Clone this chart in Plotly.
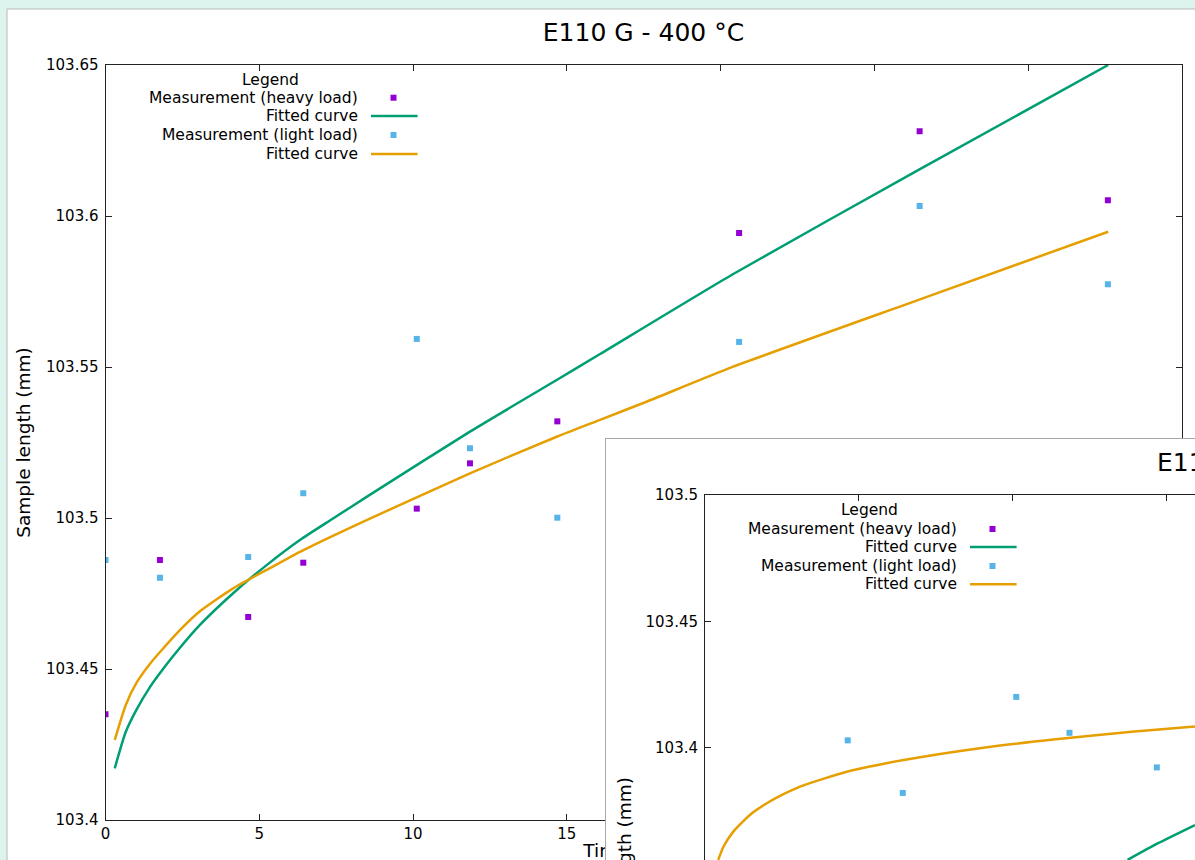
import plotly.graph_objects as go

W, H = 1195, 860
FONT = "DejaVu Sans"

# ---------------- data ----------------
main_title = "E110 G - 400 °C"
inset_title = "E110 G"
x_title = "Time (days)"
y_title = "Sample length (mm)"
legend_heading = "Legend"
legend_labels = ["Measurement (heavy load)", "Fitted curve",
                 "Measurement (light load)", "Fitted curve"]

time_main = [0.0, 1.77, 4.64, 6.43, 10.12, 11.85, 14.69, 20.6, 26.47, 32.59]
heavy_main = [103.435, 103.4861, 103.4672, 103.4852, 103.5031, 103.5181,
              103.532, 103.5944, 103.6281, 103.6052]
light_main = [103.4861, 103.4802, 103.4871, 103.5082, 103.5593, 103.5231,
              103.5001, 103.5583, 103.6033, 103.5774]

fit_heavy_t = [0.30, 0.66, 1.00, 1.45, 1.97, 2.36, 3.07, 4.15, 5.24, 6.32, 7.41,
               8.49, 11.85, 14.67, 16.08, 20.41, 26.48, 32.6]
fit_heavy_y = [103.4171, 103.4292, 103.4364, 103.4441, 103.4513, 103.4563,
               103.4646, 103.4751, 103.4844, 103.4927, 103.4999, 103.507,
               103.5286, 103.5457, 103.5543, 103.5808, 103.6155, 103.65]

fit_light_t = [0.30, 0.66, 1.00, 1.46, 1.83, 2.53, 3.07, 4.15, 5.24, 6.32, 7.41,
               8.49, 11.85, 14.67, 16.08, 17.59, 20.41, 26.48, 32.6]
fit_light_y = [103.4265, 103.4381, 103.4453, 103.4519, 103.4563, 103.464,
               103.4691, 103.4767, 103.4828, 103.4888, 103.4942, 103.4993,
               103.5148, 103.5269, 103.5325, 103.5385, 103.5501, 103.5724,
               103.5948]

# inset (second window, partly visible)
time_inset = [4.64, 6.43, 10.12, 11.85, 14.69]
light_inset = [103.4029, 103.3821, 103.4201, 103.4059, 103.3922]
fit_light_inset_t = [0.43, 0.60, 0.92, 1.46, 2.01, 2.55, 3.09, 4.61, 6.46,
                     8.93, 11.4, 13.87, 15.93]
fit_light_inset_y = [103.3556, 103.3608, 103.3668, 103.3734, 103.378, 103.3816,
                     103.3846, 103.3905, 103.3951, 103.3998, 103.4033, 103.4063,
                     103.4084]
fit_heavy_inset_t = [13.74, 14.73, 15.93]
fit_heavy_inset_y = [103.3556, 103.3622, 103.3694]

C_HEAVY = "#9400d3"
C_HEAVY_FIT = "#009e73"
C_LIGHT = "#56b4e9"
C_LIGHT_FIT = "#e69f00"


def px(x):
    return x / W


def py(y):
    return 1 - y / H


fig = go.Figure()

# ---- main chart (x/y) ----
fig.add_trace(go.Scatter(x=time_main, y=heavy_main, mode="markers", name=legend_labels[0],
                         marker=dict(symbol="square", size=6, color=C_HEAVY),
                         xaxis="x", yaxis="y", showlegend=False))
fig.add_trace(go.Scatter(x=fit_heavy_t, y=fit_heavy_y, mode="lines", name=legend_labels[1],
                         line=dict(color=C_HEAVY_FIT, width=2.5, shape="spline",
                                   smoothing=0.6),
                         xaxis="x", yaxis="y", showlegend=False))
fig.add_trace(go.Scatter(x=time_main, y=light_main, mode="markers", name=legend_labels[2],
                         marker=dict(symbol="square", size=6, color=C_LIGHT),
                         xaxis="x", yaxis="y", showlegend=False))
fig.add_trace(go.Scatter(x=fit_light_t, y=fit_light_y, mode="lines", name=legend_labels[3],
                         line=dict(color=C_LIGHT_FIT, width=2.5, shape="spline",
                                   smoothing=0.6),
                         xaxis="x", yaxis="y", showlegend=False))

# ---- strip under the main chart holding its x-axis title (x2/y2) ----
fig.add_trace(go.Scatter(x=[(638 - 105.5) / (1182 - 105.5)], y=[(H - 852) / 26.0],
                         mode="text", text=[x_title], textposition="middle center",
                         textfont=dict(family=FONT, size=18.5, color="black"),
                         cliponaxis=False, hoverinfo="skip", showlegend=False,
                         xaxis="x2", yaxis="y2"))

# ---- second window panel (x3/y3), drawn above the main chart ----
fig.add_trace(go.Scatter(x=[], y=[], xaxis="x3", yaxis="y3", showlegend=False,
                         hoverinfo="skip"))

# ---- inset chart (x4/y4) ----
fig.add_trace(go.Scatter(x=time_inset, y=light_inset, mode="markers", name=legend_labels[2],
                         marker=dict(symbol="square", size=6, color=C_LIGHT),
                         xaxis="x4", yaxis="y4", showlegend=False))
fig.add_trace(go.Scatter(x=fit_light_inset_t, y=fit_light_inset_y, mode="lines",
                         name=legend_labels[3],
                         line=dict(color=C_LIGHT_FIT, width=2.5, shape="spline",
                                   smoothing=0.6),
                         xaxis="x4", yaxis="y4", showlegend=False))
fig.add_trace(go.Scatter(x=fit_heavy_inset_t, y=fit_heavy_inset_y, mode="lines",
                         name=legend_labels[1],
                         line=dict(color=C_HEAVY_FIT, width=2.5, shape="spline",
                                   smoothing=0.6),
                         xaxis="x4", yaxis="y4", showlegend=False))

axis_common = dict(showgrid=False, zeroline=False, showline=True, linecolor="#222",
                   linewidth=1, ticks="inside", ticklen=6, tickcolor="#222",
                   automargin=False,
                   tickfont=dict(family=FONT, size=15, color="black"))
hidden_axis = dict(showline=False, showgrid=False, zeroline=False, showticklabels=False,
                   ticks="", fixedrange=True, automargin=False, range=[0, 1])

PX_PER_T = (1182 - 105.5) / 35.0
inset_ppy = 2527.0

fig.update_layout(
    template="none",
    width=W, height=H, autosize=False,
    margin=dict(l=0, r=0, t=0, b=0, pad=0, autoexpand=False),
    paper_bgcolor="#ddf3ee", plot_bgcolor="white",
    showlegend=False, hovermode=False,
    title=dict(text=main_title, x=643.5 / W, xanchor="center", y=1 - 32 / H,
               yanchor="middle", yref="container", xref="container",
               font=dict(family=FONT, size=25, color="black")),
    xaxis=dict(domain=[px(105.5), px(1182)], range=[0, 35], dtick=5, tick0=0,
               mirror="ticks", anchor="y", **axis_common),
    yaxis=dict(domain=[py(820), py(65)], range=[103.4, 103.65], dtick=0.05, tick0=103.4,
               mirror="ticks", anchor="x", ticklabelstandoff=3,
               title=dict(text=y_title, standoff=10,
                          font=dict(family=FONT, size=18.5, color="black")),
               **axis_common),
    xaxis2=dict(domain=[px(105.5), px(1182)], anchor="y2", **hidden_axis),
    yaxis2=dict(domain=[0, (H - 834) / H], anchor="x2", **hidden_axis),
    xaxis3=dict(domain=[px(606), 1], range=[0, 1], side="top", anchor="y3",
                showline=True, linecolor="#a8a8a8", linewidth=1, showgrid=False,
                zeroline=False, showticklabels=False, ticks="", fixedrange=True,
                automargin=False),
    yaxis3=dict(domain=[0, py(439)], range=[0, 1], side="left", anchor="x3",
                showline=True, linecolor="#a8a8a8", linewidth=1, showgrid=False,
                zeroline=False, showticklabels=False, ticks="", fixedrange=True,
                automargin=False),
    xaxis4=dict(domain=[px(705), 1], range=[0, (1195 - 705) / PX_PER_T], dtick=5, tick0=0,
                side="top", anchor="y4", showticklabels=False, **axis_common),
    yaxis4=dict(domain=[0, py(495)], range=[103.5 - 365 / inset_ppy, 103.5], dtick=0.05,
                tick0=103.4, anchor="x4", ticklabelstandoff=3, **axis_common),
)

shapes = [
    # main window panel
    dict(type="rect", xref="paper", yref="paper", x0=px(7), x1=px(W + 20),
         y0=py(H + 20), y1=py(9), fillcolor="white",
         line=dict(color="#b8b8b8", width=1), layer="below"),
]
annotations = []


def add_legend(x_text_right, x_sample, x_line0, x_line1, y_head, x_head, rows_y):
    annotations.append(dict(text=legend_heading, x=px(x_head), y=py(y_head),
                            xref="paper", yref="paper", xanchor="center", yanchor="middle",
                            showarrow=False, font=dict(family=FONT, size=15.5, color="black")))
    for lab, yy in zip(legend_labels, rows_y):
        annotations.append(dict(text=lab, x=px(x_text_right), y=py(yy), xref="paper",
                                yref="paper", xanchor="right", yanchor="middle",
                                showarrow=False,
                                font=dict(family=FONT, size=15.5, color="black")))
    for col, yy in ((C_HEAVY, rows_y[0]), (C_LIGHT, rows_y[2])):
        shapes.append(dict(type="rect", xref="paper", yref="paper",
                           x0=px(x_sample - 3), x1=px(x_sample + 3),
                           y0=py(yy + 3), y1=py(yy - 3), fillcolor=col,
                           line=dict(width=0), layer="above"))
    for col, yy in ((C_HEAVY_FIT, rows_y[1]), (C_LIGHT_FIT, rows_y[3])):
        shapes.append(dict(type="line", xref="paper", yref="paper",
                           x0=px(x_line0), x1=px(x_line1), y0=py(yy), y1=py(yy),
                           line=dict(color=col, width=2.5), layer="above"))


add_legend(360, 393.5, 371, 417.6, 80, 270, [97.7, 116, 135, 154])
add_legend(959, 992.5, 970, 1016.6, 510, 869, [529, 547, 566, 584.3])

# inset title and y-axis title (second window extends past the page)
annotations.append(dict(text=inset_title, x=px(1155), y=py(462), xref="paper", yref="paper",
                        xanchor="left", yanchor="middle", showarrow=False,
                        font=dict(family=FONT, size=25, color="black")))
annotations.append(dict(text=y_title, x=px(624), y=py(872.5), xref="paper", yref="paper",
                        xanchor="center", yanchor="middle", textangle=-90, showarrow=False,
                        font=dict(family=FONT, size=18.5, color="black")))

fig.update_layout(shapes=shapes, annotations=annotations)

fig.write_html("out.html", config={"displayModeBar": False},
               post_script="document.body.style.margin='0';document.body.style.overflow='hidden';")
